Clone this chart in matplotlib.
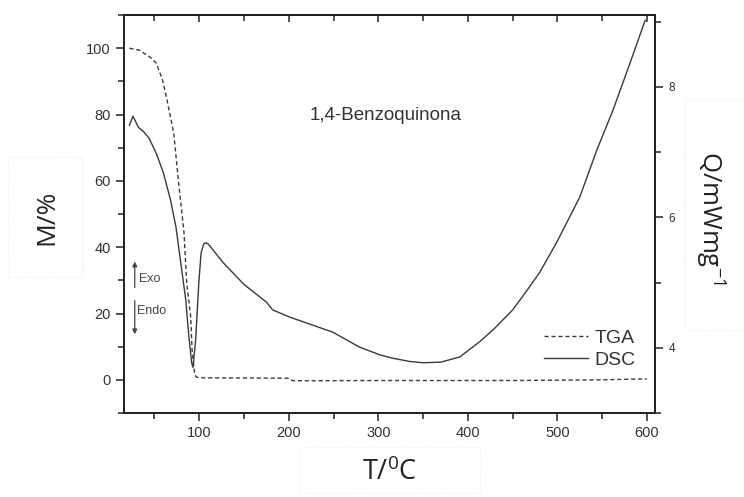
import matplotlib
matplotlib.use('Agg')
import matplotlib.pyplot as plt
from matplotlib.patches import Rectangle
from matplotlib.ticker import MultipleLocator

plt.rcParams['font.family'] = ['Liberation Sans', 'DejaVu Sans']
plt.rcParams['mathtext.fontset'] = 'custom'
plt.rcParams['mathtext.rm'] = 'Open Sans'
plt.rcParams['mathtext.it'] = 'Open Sans'

# TGA: mass (%) vs temperature (C)
tga_t = [22, 33, 45, 52, 59, 64, 71.5, 77, 83, 86, 90.5, 92, 95, 97,
         106, 199, 205, 300, 450, 548, 600]
tga_m = [100, 99.4, 97.3, 95.5, 90.4, 84.4, 74.4, 59.3, 44.3, 29.2, 18.9,
         9.0, 1.5, 0.8, 0.6, 0.5, -0.3, -0.2, -0.2, 0.0, 0.3]

# DSC: heat flow (mW/mg) vs temperature (C)
dsc_t = [22, 26, 32, 38, 44, 52, 60, 68, 74, 79, 85,
         88, 91.5, 93, 96, 99.5, 102, 105, 107, 110, 113, 127, 150,
         175, 182, 201, 249, 279, 302, 316, 335, 350, 370,
         391, 413, 430, 450, 465, 480, 499, 525, 544, 562, 581, 598]
dsc_q = [7.41, 7.55, 7.38, 7.31, 7.21, 6.98, 6.68, 6.26, 5.85, 5.34, 4.73,
         4.23, 3.77, 3.70, 4.12, 4.99, 5.45, 5.59, 5.61, 5.59, 5.54, 5.30, 4.97,
         4.70, 4.58, 4.47, 4.24, 4.01, 3.89, 3.84, 3.79, 3.77, 3.78,
         3.86, 4.09, 4.30, 4.58, 4.86, 5.15, 5.61, 6.31, 7.03, 7.64, 8.36, 9.02]

line_col = '#3a3a3a'
axis_col = '#222222'

fig = plt.figure(figsize=(7.44, 4.97), dpi=100)
ax = fig.add_axes([0.1667, 0.169, 0.7137, 0.8008])
ax2 = ax.twinx()

l1, = ax.plot(tga_t, tga_m, color=line_col, lw=1.0, dashes=(3, 2), label='TGA')
l2, = ax2.plot(dsc_t, dsc_q, color=line_col, lw=1.0, label='DSC')

ax.set_xlim(16, 609)
ax.set_ylim(-10, 110)
ax2.set_ylim(3, 9.1)

ax.xaxis.set_major_locator(MultipleLocator(100))
ax.xaxis.set_minor_locator(MultipleLocator(50))
ax.yaxis.set_major_locator(MultipleLocator(20))
ax.yaxis.set_minor_locator(MultipleLocator(10))
ax2.yaxis.set_major_locator(MultipleLocator(2))
ax2.yaxis.set_minor_locator(MultipleLocator(1))

for a in (ax, ax2):
    for s in a.spines.values():
        s.set_color(axis_col)
        s.set_linewidth(1.3)

ax.tick_params(which='both', direction='out', colors=axis_col, width=1.1,
               labelsize=10.5, labelcolor='#333333')
ax.tick_params(which='major', length=6)
ax.tick_params(which='minor', length=4)
ax.set_xticks([100, 200, 300, 400, 500, 600])
ax2.tick_params(which='both', direction='out', colors=axis_col, width=1.1,
                labelsize=8.5, labelcolor='#333333')
ax2.tick_params(which='major', length=6)
ax2.tick_params(which='minor', length=4)

top = ax.secondary_xaxis('top')
top.xaxis.set_major_locator(MultipleLocator(100))
top.xaxis.set_minor_locator(MultipleLocator(50))
top.tick_params(which='both', direction='in', labeltop=False, colors=axis_col, width=1.1)
top.tick_params(which='major', length=5)
top.tick_params(which='minor', length=4)
top.spines['top'].set_linewidth(1.3)

ax.text(308, 79.8, '1,4-Benzoquinona', fontsize=13.5, color='#333333',
        ha='center', va='center')

# Exo / Endo arrows
ax.annotate('', xy=(28, 36.5), xytext=(28, 27),
            arrowprops=dict(arrowstyle='-|>', color='#444444', lw=0.9,
                            mutation_scale=7))
ax.annotate('', xy=(28, 12.9), xytext=(28, 24.7),
            arrowprops=dict(arrowstyle='-|>', color='#444444', lw=0.9,
                            mutation_scale=7))
ax.text(33, 30.4, 'Exo', fontsize=9, color='#444444', va='center')
ax.text(31, 20.8, 'Endo', fontsize=9, color='#444444', va='center')

leg = ax.legend([l1, l2], ['TGA', 'DSC'], loc='lower left',
                bbox_to_anchor=(0.772, 0.086), frameon=False, fontsize=14,
                handlelength=2.3, handletextpad=0.3, labelspacing=0.25,
                borderpad=0.0)
for t in leg.get_texts():
    t.set_color('#333333')

# axis labels in faint boxes
fig.text(0.063, 0.563, 'M/%', rotation=90, fontsize=19, family='Open Sans',
         ha='center', va='center', color='#222222')
fig.text(0.954, 0.561, 'Q/mWmg$^{-1}$', rotation=-90, fontsize=18.5,
         family='Open Sans', ha='center', va='center', color='#222222')
fig.text(0.524, 0.048, 'T/$^{0}$C', fontsize=19.5, family='Open Sans',
         ha='center', va='center', color='#222222')

for x0, y0, w, h in [(0.011, 0.4427, 0.0995, 0.2414),
                     (0.9207, 0.336, 0.0793, 0.4628),
                     (0.403, 0.008, 0.242, 0.0926)]:
    fig.patches.append(Rectangle((x0, y0), w, h, transform=fig.transFigure,
                                 fill=False, edgecolor='#ececec', lw=0.8,
                                 linestyle=':'))

fig.savefig('out.png', dpi=100)
